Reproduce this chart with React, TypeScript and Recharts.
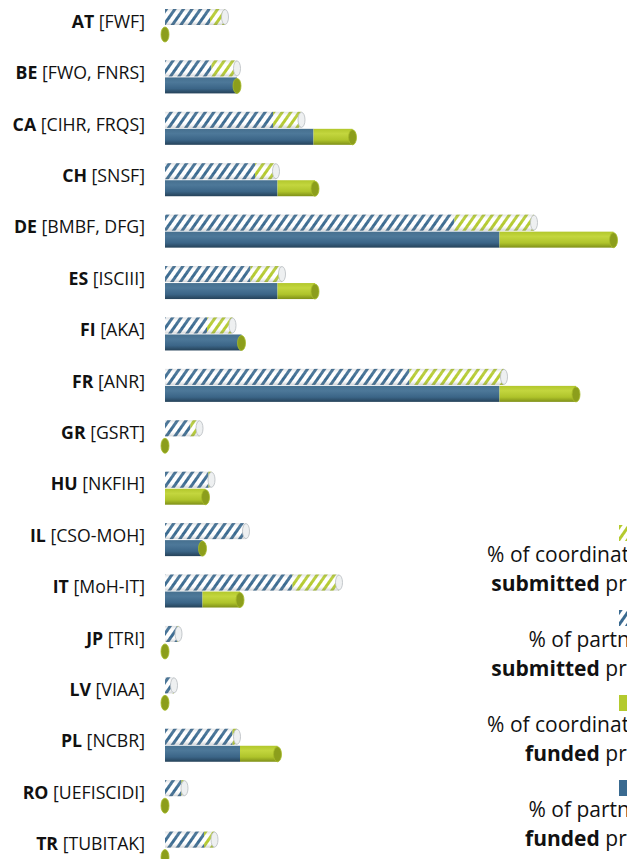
import { BarChart, Bar, XAxis, YAxis, Legend } from 'recharts'

const codes = ['AT', 'BE', 'CA', 'CH', 'DE', 'ES', 'FI', 'FR', 'GR', 'HU', 'IL', 'IT', 'JP', 'LV', 'PL', 'RO', 'TR']
const agencies = ['FWF', 'FWO, FNRS', 'CIHR, FRQS', 'SNSF', 'BMBF, DFG', 'ISCIII', 'AKA', 'ANR', 'GSRT', 'NKFIH', 'CSO-MOH', 'MoH-IT', 'TRI', 'VIAA', 'NCBR', 'UEFISCIDI', 'TUBITAK']

const partnersSubmitted = [3.0, 3.1, 7.2, 6.0, 19.3, 5.7, 2.8, 16.3, 1.7, 2.9, 5.3, 8.5, 0.8, 0.5, 4.5, 1.1, 2.6]
const coordinatorsSubmitted = [1.0, 1.7, 1.9, 1.4, 5.3, 2.1, 1.7, 6.3, 0.6, 0.2, 0.1, 3.1, 0.1, 0.1, 0.3, 0.2, 0.7]
const partnersFunded = [0, 4.8, 9.9, 7.5, 22.3, 7.5, 5.1, 22.3, 0, 0, 2.5, 2.5, 0, 0, 5.0, 0, 0]
const coordinatorsFunded = [0, 0, 2.6, 2.5, 7.6, 2.5, 0, 5.1, 0, 2.7, 0, 2.5, 0, 0, 2.5, 0, 0]

const legendFirst = ['% of coordinators in', '% of partners in', '% of coordinators in', '% of partners in']
const legendBold = ['submitted', 'submitted', 'funded', 'funded']

const data = codes.map((code, i) => ({
  code,
  partnersSubmitted: partnersSubmitted[i],
  coordinatorsSubmitted: coordinatorsSubmitted[i],
  partnersFunded: partnersFunded[i],
  coordinatorsFunded: coordinatorsFunded[i],
}))

const FONT = '"Open Sans", "DejaVu Sans", sans-serif'
const BLUE = '#3a6a90'
const GREEN = '#b4ca2e'

// one piece of a cylinder; the last piece of a stack also gets the end cap
function Cylinder(props: any) {
  const { x, y, width, height, fillId, cap } = props
  if (x == null || y == null) return null
  const w = Math.max(0, width)
  const cy = y + height / 2
  return (
    <g>
      {w > 0 && <rect x={x} y={y} width={w} height={height} fill={`url(#${fillId})`} />}
      {w > 0 && fillId.startsWith('hatch') && (
        <rect x={x} y={y} width={w} height={height} fill="url(#shadeHatch)" />
      )}
      {cap === 'green' && (
        <ellipse cx={x + w} cy={cy + 0.5} rx={4} ry={height / 2 - 0.5} fill="#8c9e1c" stroke="#a7bb28" strokeWidth={0.8} />
      )}
      {cap === 'white' && (
        <ellipse cx={x + w} cy={cy} rx={3.5} ry={height / 2 - 0.5} fill="#eef0f1" stroke="#b8bcc0" strokeWidth={0.8} />
      )}
    </g>
  )
}

function CategoryTick({ x, y, payload }: any) {
  const i = codes.indexOf(payload.value)
  return (
    <text x={x} y={y} dy={2} textAnchor="end" fontSize={17.7} fontFamily={FONT} fill="#111">
      <tspan fontWeight={700}>{codes[i]}</tspan>
      <tspan> [{agencies[i]}]</tspan>
    </text>
  )
}

function LegendIcon({ idx }: { idx: number }) {
  const hatched = idx < 2
  const color = idx % 2 === 0 ? GREEN : BLUE
  return (
    <svg width={16} height={16} style={{ position: 'absolute', left: 179, top: 1 }}>
      <defs>
        <pattern id={`lg${idx}`} width={7} height={7} patternUnits="userSpaceOnUse" patternTransform="rotate(35)">
          <rect width={7} height={7} fill="#fff" />
          <rect width={3} height={7} fill={color} />
        </pattern>
      </defs>
      <rect width={16} height={16} fill={hatched ? `url(#lg${idx})` : color} />
    </svg>
  )
}

function LegendBlock() {
  return (
    <div style={{ position: 'relative', width: 244, height: 340, fontFamily: FONT, fontSize: 21, color: '#111' }}>
      {legendFirst.map((first, i) => (
        <div key={i} style={{ position: 'absolute', left: 0, top: i * 85, width: 244, height: 84 }}>
          <LegendIcon idx={i} />
          <div style={{ position: 'absolute', right: 0, top: 16, lineHeight: '29px', textAlign: 'right', whiteSpace: 'nowrap' }}>
            <div>{first}</div>
            <div>
              <b>{legendBold[i]}</b> projects
            </div>
          </div>
        </div>
      ))}
    </div>
  )
}

export default function App() {
  return (
    <div style={{ position: 'fixed', left: 0, top: 0, width: 627, height: 859, overflow: 'hidden', background: '#fff' }}>
      <BarChart
        width={627}
        height={874}
        data={data}
        layout="vertical"
        margin={{ top: 0, right: 12, bottom: 0, left: 0 }}
        barSize={16}
        barGap={1}
      >
        <defs>
          <pattern id="hatchBlue" width={7} height={7} patternUnits="userSpaceOnUse" patternTransform="rotate(35)">
            <rect width={7} height={7} fill="#fff" />
            <rect width={3} height={7} fill={BLUE} />
          </pattern>
          <pattern id="hatchGreen" width={7} height={7} patternUnits="userSpaceOnUse" patternTransform="rotate(35)">
            <rect width={7} height={7} fill="#fff" />
            <rect width={3} height={7} fill={GREEN} />
          </pattern>
          <linearGradient id="shadeHatch" x1="0" y1="0" x2="0" y2="1">
            <stop offset="0" stopColor="#6b7580" stopOpacity={0.22} />
            <stop offset="0.25" stopColor="#ffffff" stopOpacity={0.1} />
            <stop offset="0.65" stopColor="#ffffff" stopOpacity={0} />
            <stop offset="1" stopColor="#5a636c" stopOpacity={0.3} />
          </linearGradient>
          <linearGradient id="solidBlue" x1="0" y1="0" x2="0" y2="1">
            <stop offset="0" stopColor="#46708f" />
            <stop offset="0.3" stopColor="#4d7899" />
            <stop offset="0.7" stopColor="#3b6587" />
            <stop offset="1" stopColor="#254259" />
          </linearGradient>
          <linearGradient id="solidGreen" x1="0" y1="0" x2="0" y2="1">
            <stop offset="0" stopColor="#b2c72c" />
            <stop offset="0.3" stopColor="#c3d63e" />
            <stop offset="0.7" stopColor="#afc42b" />
            <stop offset="1" stopColor="#7f9018" />
          </linearGradient>
        </defs>
        <XAxis type="number" domain={[0, 30]} hide />
        <YAxis
          type="category"
          dataKey="code"
          width={165}
          axisLine={false}
          tickLine={false}
          tickSize={0}
          tickMargin={20}
          interval={0}
          tick={<CategoryTick />}
        />
        <Legend
          layout="vertical"
          align="center"
          verticalAlign="middle"
          wrapperStyle={{ left: 440, top: 524, width: 244, height: 340 }}
          content={() => <LegendBlock />}
        />
        <Bar dataKey="partnersSubmitted" stackId="sub" isAnimationActive={false}
          shape={(p: any) => <Cylinder {...p} fillId="hatchBlue" />} />
        <Bar dataKey="coordinatorsSubmitted" stackId="sub" isAnimationActive={false}
          shape={(p: any) => <Cylinder {...p} fillId="hatchGreen" cap="white" />} />
        <Bar dataKey="partnersFunded" stackId="fund" isAnimationActive={false}
          shape={(p: any) => <Cylinder {...p} fillId="solidBlue" />} />
        <Bar dataKey="coordinatorsFunded" stackId="fund" isAnimationActive={false}
          shape={(p: any) => <Cylinder {...p} fillId="solidGreen" cap="green" />} />
      </BarChart>
    </div>
  )
}
